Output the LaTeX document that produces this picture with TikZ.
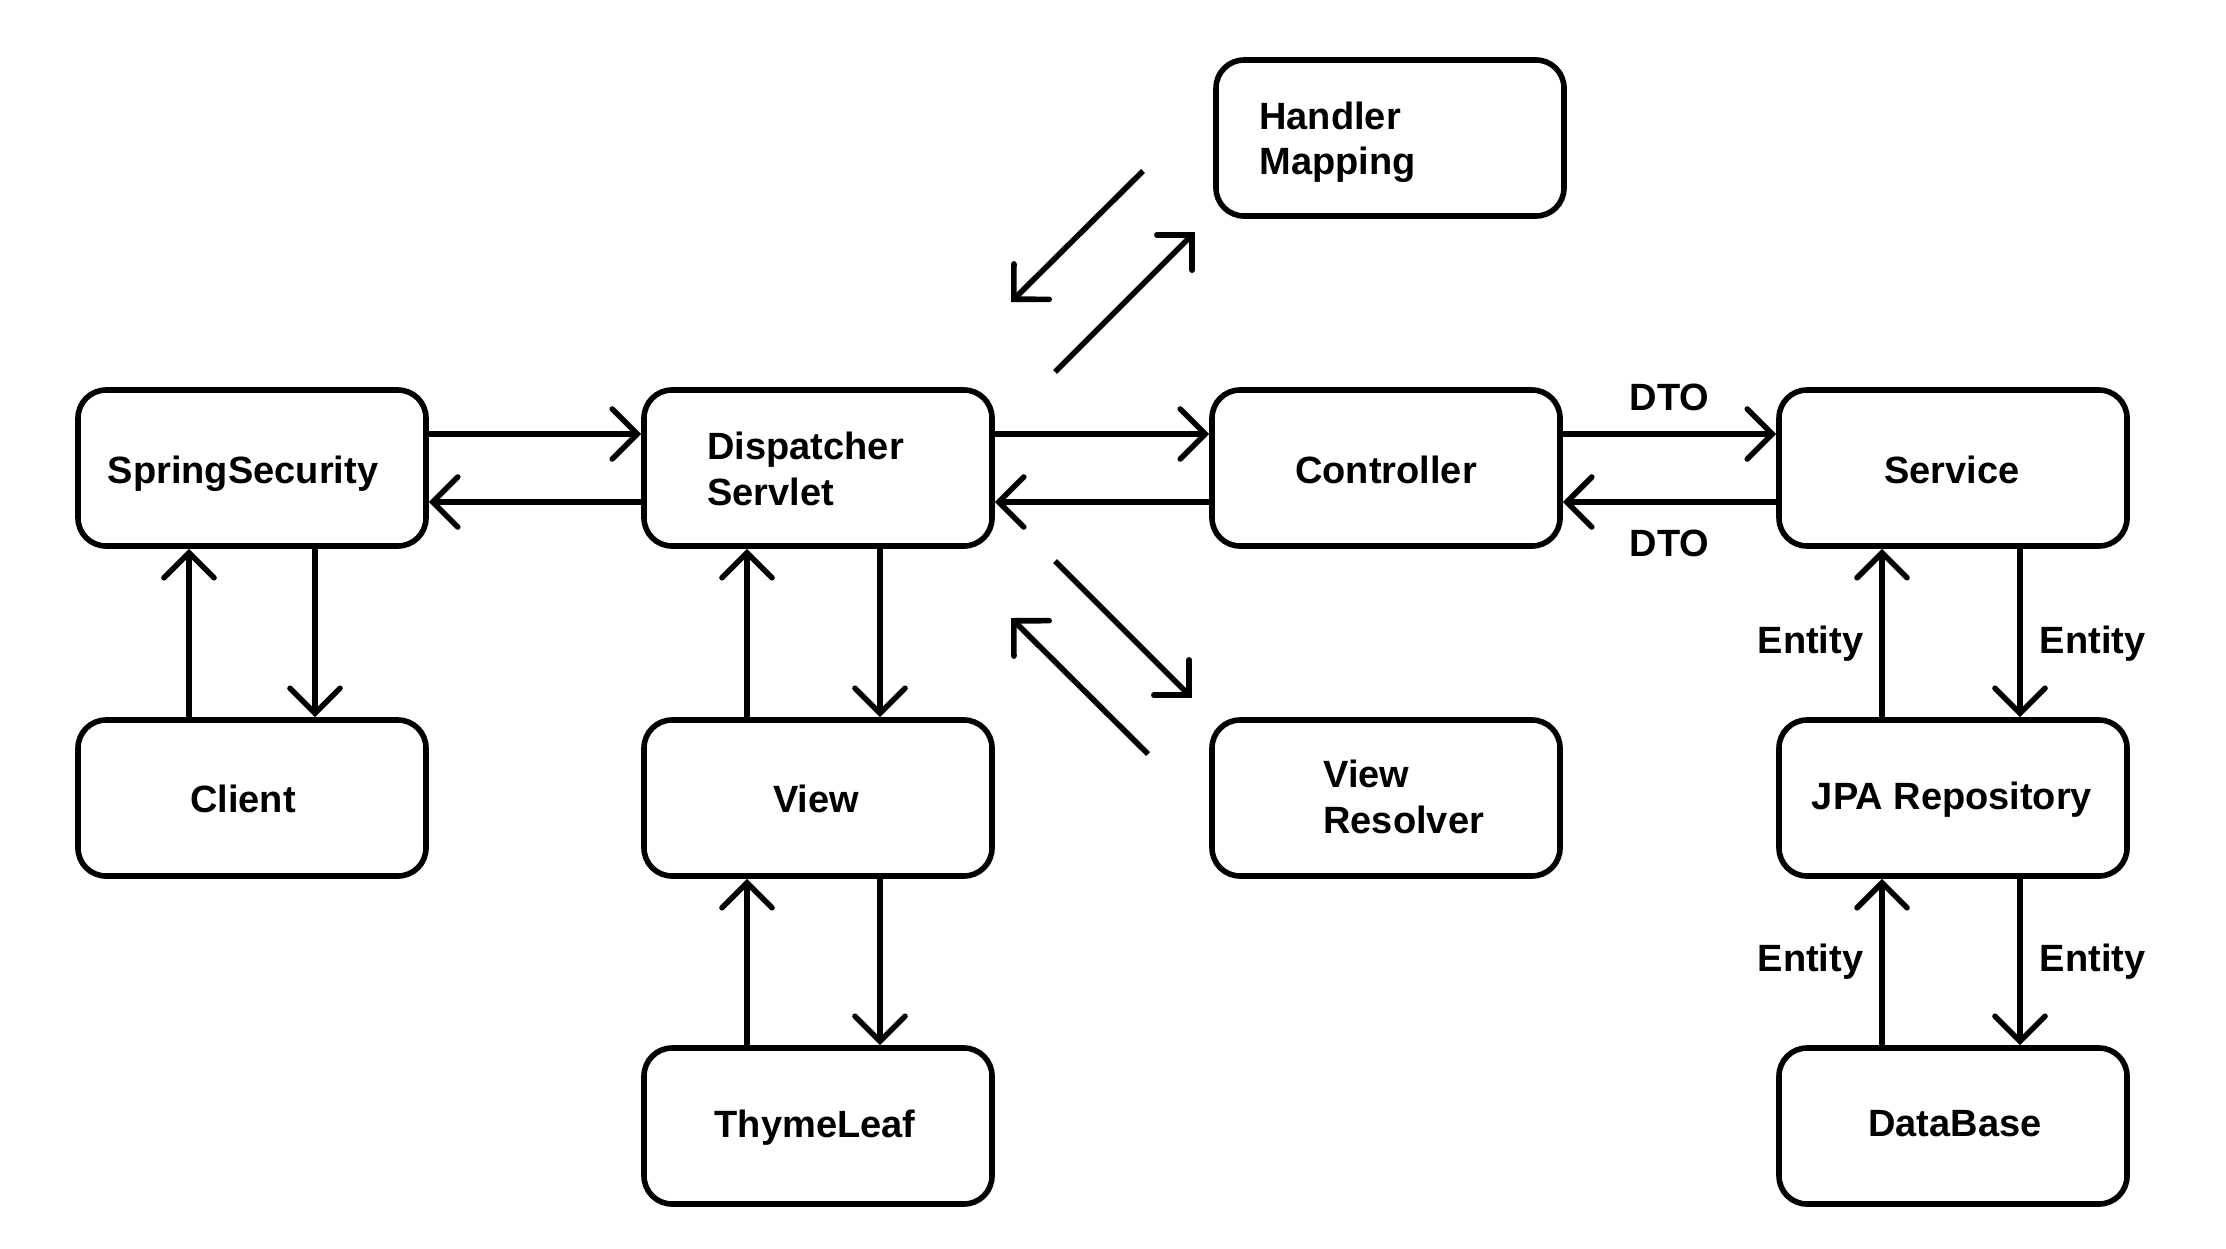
\documentclass[tikz,border=0pt]{standalone}
\usepackage{fontspec}
\setmainfont{Liberation Sans}
\usetikzlibrary{arrows.meta}
\begin{document}
\begin{tikzpicture}[x=0.5pt,y=-0.5pt,
  box/.style={draw, line width=2.8pt, rounded corners=14pt, minimum width=174pt, minimum height=78pt, inner sep=0pt},
  txt/.style={font=\bfseries\fontsize{19}{22.7}\selectfont, align=left, inner sep=0pt},
  conn/.style={line width=2.8pt, -{Straight Barb[length=12.5pt,width=25pt,line cap=round]}}]
\useasboundingbox[fill=white] (0,0) rectangle (2226,1248);
% boxes
\node[box] (ss) at (252,468) {};
\node[box] (ds) at (818,468) {};
\node[box] (ct) at (1386,468) {};
\node[box] (sv) at (1953,468) {};
\node[box] (hm) at (1390,138) {};
\node[box] (cl) at (252,798) {};
\node[box] (vw) at (818,798) {};
\node[box] (vr) at (1386,798) {};
\node[box] (jpa) at (1953,798) {};
\node[box] (th) at (818,1126) {};
\node[box] (db) at (1953,1126) {};
% texts
\node[txt] (ss-t) at (243,474) {SpringSecurity};
\node[txt] (cl-t) at (243,799) {Client};
\node[txt,anchor=west] (ds-t) at (707,469) {Dispatcher\\Servlet};
\node[txt,anchor=west] (hm-t) at (1259,142) {Handler\\Mapping};
\node[txt,anchor=west] (vr-t) at (1323,797) {View\\Resolver};
\node[txt] (ct-t) at (1386,470) {Controller};
\node[txt] (sv-t) at (1952,470) {Service};
\node[txt] (vw-t) at (816,799) {View};
\node[txt] (th-t) at (815,1128) {ThymeLeaf};
\node[txt] (jpa-t) at (1952,800) {JPA Repository};
\node[txt] (db-t) at (1955,1124) {DataBase};
% horizontal connectors
\draw[conn] ([yshift=17pt]ss.east) -- ([yshift=17pt]ds.west);
\draw[conn] ([yshift=-17pt]ds.west) -- ([yshift=-17pt]ss.east);
\draw[conn] ([yshift=17pt]ds.east) -- ([yshift=17pt]ct.west);
\draw[conn] ([yshift=-17pt]ct.west) -- ([yshift=-17pt]ds.east);
\draw[conn] ([yshift=17pt]ct.east) -- node[txt, above=10pt] (dto1) {DTO} ([yshift=17pt]sv.west);
\draw[conn] ([yshift=-17pt]sv.west) -- node[txt, below=12.5pt] (dto2) {DTO} ([yshift=-17pt]ct.east);
% vertical connectors
\draw[conn] ([xshift=-31.5pt]cl.north) -- ([xshift=-31.5pt]ss.south);
\draw[conn] ([xshift=31.5pt]ss.south) -- ([xshift=31.5pt]cl.north);
\draw[conn] ([xshift=-35.5pt]vw.north) -- ([xshift=-35.5pt]ds.south);
\draw[conn] ([xshift=31pt]ds.south) -- ([xshift=31pt]vw.north);
\draw[conn] ([xshift=-35.5pt]th.north) -- ([xshift=-35.5pt]vw.south);
\draw[conn] ([xshift=31pt]vw.south) -- ([xshift=31pt]th.north);
\draw[conn] ([xshift=-35.5pt]jpa.north) -- node[txt, left=8pt, yshift=-5.5pt] (en1) {Entity} ([xshift=-35.5pt]sv.south);
\draw[conn] ([xshift=33.5pt]sv.south) -- node[txt, right=8.5pt, yshift=-5.5pt] (en2) {Entity} ([xshift=33.5pt]jpa.north);
\draw[conn] ([xshift=-35.5pt]db.north) -- node[txt, left=8pt] (en3) {Entity} ([xshift=-35.5pt]jpa.south);
\draw[conn] ([xshift=33.5pt]jpa.south) -- node[txt, right=8.5pt] (en4) {Entity} ([xshift=33.5pt]db.north);
% diagonal free arrows
\coordinate (a1s) at (1143,171);
\coordinate (a1e) at (1011,302);
\coordinate (a2s) at (1055,372);
\coordinate (a2e) at (1195,232);
\coordinate (a3s) at (1055,561);
\coordinate (a3e) at (1192,698);
\coordinate (a4s) at (1148,754);
\coordinate (a4e) at (1011,618);
\draw[conn] (a1s) -- (a1e);
\draw[conn] (a2s) -- (a2e);
\draw[conn] (a3s) -- (a3e);
\draw[conn] (a4s) -- (a4e);
\end{tikzpicture}
\end{document}
